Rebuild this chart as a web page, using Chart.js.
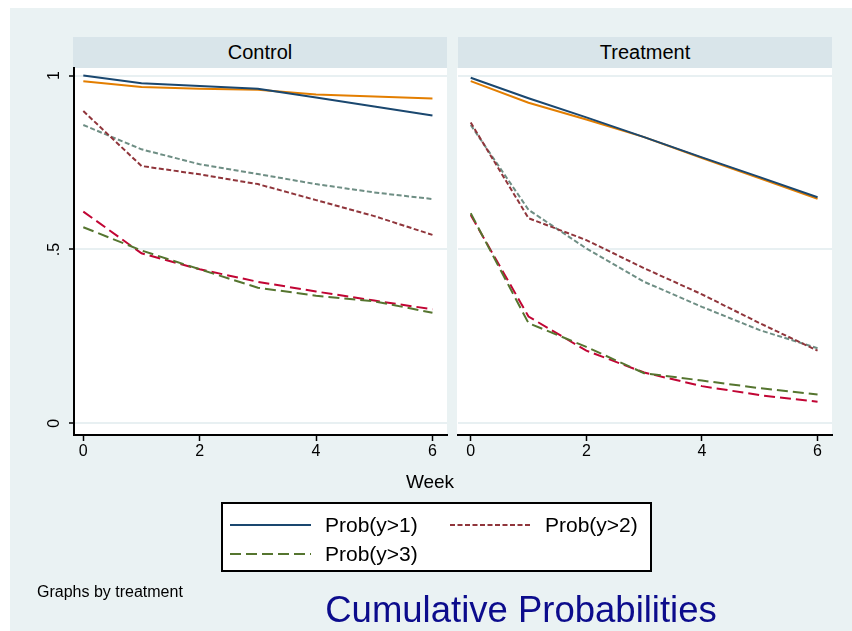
<!DOCTYPE html>
<html><head><meta charset="utf-8">
<script src="https://cdn.jsdelivr.net/npm/chart.js@4.4.1/dist/chart.umd.min.js"></script>
<style>
html,body{margin:0;padding:0;background:#fff;width:852px;height:631px;overflow:hidden;font-family:"Liberation Sans",Arial,sans-serif;}
#bg{position:absolute;left:10px;top:8px;width:842px;height:623px;background:#eaf2f3;}
.strip{position:absolute;top:37px;height:31px;width:374px;background:#d9e5ea;color:#000;font-size:20px;text-align:center;line-height:31px;}
canvas{position:absolute;left:0;top:0;}
.txt{position:absolute;white-space:nowrap;color:#000;}
#legend{position:absolute;left:221px;top:502px;width:427px;height:66px;border:2px solid #000;background:#fff;}
.lg{position:absolute;font-size:21px;line-height:24px;white-space:nowrap;}
svg{position:absolute;overflow:visible;}
</style>
</head><body>
<div id="bg"></div>
<div class="strip" id="s1" style="left:73px;"></div>
<div class="strip" id="s2" style="left:458px;"></div>
<canvas id="c1" width="852" height="631"></canvas>
<canvas id="c2" width="852" height="631"></canvas>
<div class="txt" id="xtitle" style="font-size:19px;left:330px;width:200px;text-align:center;top:471px;"></div>
<div id="legend"></div>
<div class="txt" id="note" style="font-size:16px;left:37px;top:583px;"></div>
<div class="txt" id="caption" style="font-size:36.5px;color:#0c0c8c;left:271px;width:500px;text-align:center;top:589px;"></div>
<script>
// ---- data ----
const panels = ['Control', 'Treatment'];
const weeks = [0, 1, 2, 3, 4, 5, 6];
const xTicks = [0, 2, 4, 6];
const xTickLabels = ['0', '2', '4', '6'];
const yTicks = [0, 0.5, 1];
const yTickLabels = ['0', '.5', '1'];
const xTitle = 'Week';
const seriesLabels = ['Prob(y>1)', 'Prob(y>2)', 'Prob(y>3)'];
const noteText = 'Graphs by treatment';
const captionText = 'Cumulative Probabilities';

// Control panel
const controlP1 = [1.000, 0.978, 0.970, 0.962, 0.937, 0.911, 0.885];
const controlP2 = [0.898, 0.740, 0.716, 0.688, 0.642, 0.596, 0.542];
const controlP3 = [0.564, 0.497, 0.443, 0.390, 0.367, 0.351, 0.318];
const controlF1 = [0.984, 0.967, 0.962, 0.959, 0.946, 0.940, 0.934];
const controlF2 = [0.858, 0.788, 0.745, 0.717, 0.688, 0.664, 0.645];
const controlF3 = [0.609, 0.489, 0.443, 0.407, 0.379, 0.353, 0.328];
// Treatment panel
const treatP1 = [0.994, 0.935, 0.880, 0.823, 0.765, 0.708, 0.650];
const treatP2 = [0.865, 0.590, 0.527, 0.446, 0.371, 0.288, 0.209];
const treatP3 = [0.604, 0.288, 0.220, 0.144, 0.123, 0.101, 0.083];
const treatF1 = [0.984, 0.922, 0.874, 0.823, 0.763, 0.705, 0.646];
const treatF2 = [0.858, 0.614, 0.503, 0.407, 0.335, 0.268, 0.216];
const treatF3 = [0.599, 0.307, 0.209, 0.146, 0.107, 0.081, 0.062];

// ---- styles ----
const colors = ['#1a476f', '#90353b', '#55752f', '#e37e00', '#6e8e84', '#c10534'];
const dashes = [[], [5, 2.5], [11, 5], [], [5, 2.5], [11, 5]];
const FONT = '"Liberation Sans", Arial, sans-serif';

document.getElementById('s1').textContent = panels[0];
document.getElementById('s2').textContent = panels[1];
document.getElementById('xtitle').textContent = xTitle;
document.getElementById('note').textContent = noteText;
document.getElementById('caption').textContent = captionText;

// legend (HTML)
const lg = document.getElementById('legend');
const legendPos = [[7, 21], [227, 21], [7, 50]];
seriesLabels.forEach((lab, i) => {
  const [lx, ly] = legendPos[i];
  const svgNS = 'http://www.w3.org/2000/svg';
  const svg = document.createElementNS(svgNS, 'svg');
  svg.setAttribute('width', '81'); svg.setAttribute('height', '4');
  svg.style.left = lx + 'px'; svg.style.top = (ly - 2) + 'px';
  const ln = document.createElementNS(svgNS, 'line');
  ln.setAttribute('x1', '0'); ln.setAttribute('x2', '81');
  ln.setAttribute('y1', '2'); ln.setAttribute('y2', '2');
  ln.setAttribute('stroke', colors[i]); ln.setAttribute('stroke-width', '2');
  if (dashes[i].length) ln.setAttribute('stroke-dasharray', dashes[i].join(' '));
  svg.appendChild(ln); lg.appendChild(svg);
  const t = document.createElement('div');
  t.className = 'lg'; t.textContent = lab;
  t.style.left = (lx + 95) + 'px'; t.style.top = (ly - 12) + 'px';
  lg.appendChild(t);
});

const bgPlugin = {
  id: 'bg',
  beforeDraw(chart) {
    const a = chart.chartArea, ctx = chart.ctx;
    ctx.save(); ctx.fillStyle = '#fff';
    ctx.fillRect(a.left - 1, a.top, a.right - a.left + 1, a.bottom - a.top);
    ctx.restore();
  }
};

function labelPlugin(showY) {
  return {
    id: 'lbl',
    afterDraw(chart) {
      const ctx = chart.ctx, xs = chart.scales.x, ys = chart.scales.y;
      ctx.save();
      ctx.fillStyle = '#000';
      ctx.font = '16px ' + FONT;
      ctx.textAlign = 'center'; ctx.textBaseline = 'middle';
      xTicks.forEach((v, i) => ctx.fillText(xTickLabels[i], xs.getPixelForValue(v), 452));
      if (showY) {
        yTicks.forEach((v, i) => {
          ctx.save();
          ctx.translate(55, ys.getPixelForValue(v));
          ctx.rotate(-Math.PI / 2);
          ctx.fillText(yTickLabels[i], 0, 0);
          ctx.restore();
        });
      }
      ctx.restore();
    }
  };
}

function makeChart(id, series, isLeft) {
  const xMin = isLeft ? -0.16 : -0.22;
  new Chart(document.getElementById(id), {
    type: 'line',
    data: {
      datasets: series.map((vals, i) => ({
        data: weeks.map((w, j) => ({ x: w, y: vals[j] })),
        borderColor: colors[i],
        borderDash: dashes[i],
        borderWidth: 2,
        pointRadius: 0,
        fill: false,
        tension: 0
      }))
    },
    options: {
      responsive: false, animation: false, devicePixelRatio: 1,
      layout: { padding: { left: isLeft ? 34 : 458, right: isLeft ? 852 - 447 : 852 - 832, top: 68, bottom: 166 } },
      plugins: { legend: { display: false }, tooltip: { enabled: false } },
      scales: {
        x: {
          type: 'linear', min: xMin, max: 6.25,
          afterBuildTicks: s => { s.ticks = xTicks.map(v => ({ value: v })); },
          afterFit: s => { s.height = 30; },
          ticks: { display: false },
          grid: { drawOnChartArea: false, drawTicks: true, tickLength: 6, tickColor: '#000', tickWidth: 1.5 },
          border: { display: true, color: '#000', width: 2 }
        },
        y: {
          type: 'linear', min: -0.0336, max: 1.0219,
          afterBuildTicks: s => { s.ticks = yTicks.map(v => ({ value: v })); },
          afterFit: s => { s.width = isLeft ? 40 : 0; },
          ticks: { display: false },
          grid: { color: '#e8f0f2', lineWidth: 2, drawTicks: isLeft, tickLength: 5, tickColor: '#000', tickWidth: 1.5 },
          border: { display: isLeft, color: '#000', width: 2 }
        }
      }
    },
    plugins: [bgPlugin, labelPlugin(isLeft)]
  });
}

makeChart('c1', [controlP1, controlP2, controlP3, controlF1, controlF2, controlF3], true);
makeChart('c2', [treatP1, treatP2, treatP3, treatF1, treatF2, treatF3], false);
</script>
</body></html>
